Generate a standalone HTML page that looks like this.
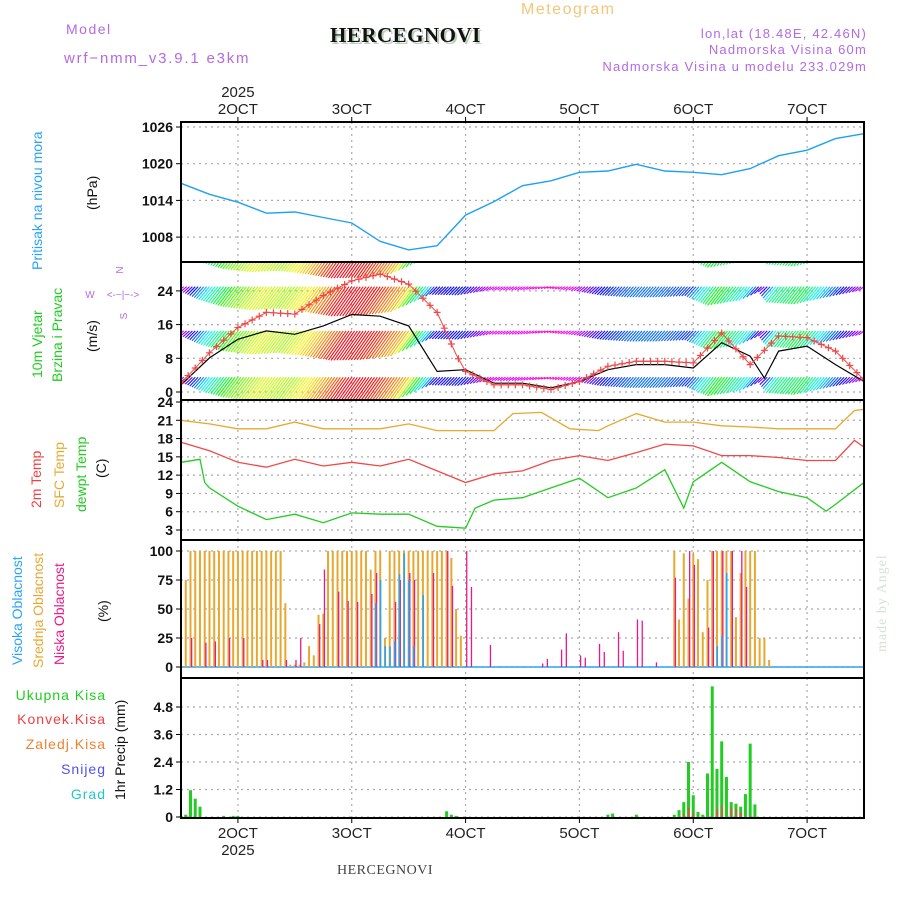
<!DOCTYPE html>
<html><head><meta charset="utf-8"><title>Meteogram HERCEGNOVI</title>
<style>
html,body{margin:0;padding:0;background:#fff;}
svg{display:block;font-family:"Liberation Sans",sans-serif;}
</style></head>
<body>
<svg id="chart" width="900" height="900" viewBox="0 0 900 900" xmlns="http://www.w3.org/2000/svg">
<defs>
<clipPath id="clipW"><rect x="181" y="263" width="683" height="136"/></clipPath>
</defs>
<rect x="0" y="0" width="900" height="900" fill="#fff"/>
<text x="66" y="34" font-size="14" fill="#b36ae2" letter-spacing="1.5">Model</text>
<text x="64" y="63" font-size="15" fill="#b36ae2" letter-spacing="1.8">wrf−nmm_v3.9.1 e3km</text>
<text x="521" y="14" font-size="16" fill="#f0c77a" letter-spacing="1.5">Meteogram</text>
<text x="332" y="44" font-size="21" font-weight="bold" fill="#b9cfb9" font-family="Liberation Serif,serif" letter-spacing="0.5">HERCEGNOVI</text>
<text x="330" y="42" font-size="21" font-weight="bold" fill="#111" font-family="Liberation Serif,serif" letter-spacing="0.5">HERCEGNOVI</text>
<text x="867" y="38" font-size="13" fill="#b36ae2" text-anchor="end" letter-spacing="1.2">lon,lat (18.48E, 42.46N)</text>
<text x="867" y="54" font-size="13" fill="#b36ae2" text-anchor="end" letter-spacing="1.2">Nadmorska Visina 60m</text>
<text x="867" y="71" font-size="13" fill="#b36ae2" text-anchor="end" letter-spacing="1.2">Nadmorska Visina u modelu 233.029m</text>
<text x="385" y="874" font-size="14" fill="#444" text-anchor="middle" font-family="Liberation Serif,serif" letter-spacing="0.5">HERCEGNOVI</text>
<text transform="translate(886,652) rotate(-90)" font-size="14" fill="#d4e2d4" font-family="Liberation Serif,serif" letter-spacing="1">made by Angel</text>

<text transform="translate(42,270) rotate(-90)" font-size="14" fill="#2aa3f5">Pritisak na nivou mora</text>
<text transform="translate(97,210) rotate(-90)" font-size="14" fill="#111">(hPa)</text>
<text transform="translate(42,378) rotate(-90)" font-size="14" fill="#22cc22">10m Vjetar</text>
<text transform="translate(62,382) rotate(-90)" font-size="14" fill="#22cc22">Brzina i Pravac</text>
<text transform="translate(97,352) rotate(-90)" font-size="14" fill="#111">(m/s)</text>
<g fill="#b36ae2" font-size="10" text-anchor="middle">
<text x="123" y="270" transform="rotate(-90 123 270)">N</text>
<text x="90" y="298">W</text>
<text x="123" y="298">&lt;-−|−-&gt;</text>
<text x="123" y="320" transform="rotate(-90 123 316)">S</text>
</g>
<text transform="translate(41,508) rotate(-90)" font-size="14" fill="#f04040">2m Temp</text>
<text transform="translate(64,508) rotate(-90)" font-size="14" fill="#e8a830">SFC Temp</text>
<text transform="translate(86,512) rotate(-90)" font-size="14" fill="#22cc22">dewpt Temp</text>
<text transform="translate(106,478) rotate(-90)" font-size="14" fill="#111">(C)</text>
<text transform="translate(22,665) rotate(-90)" font-size="14" fill="#2aa3f5">Visoka Oblacnost</text>
<text transform="translate(43,668) rotate(-90)" font-size="14" fill="#e8a830">Srednja Oblacnost</text>
<text transform="translate(64,665) rotate(-90)" font-size="14" fill="#e81a8a">Niska Oblacnost</text>
<text transform="translate(108,622) rotate(-90)" font-size="14" fill="#111">(%)</text>
<g font-size="14" text-anchor="end" letter-spacing="1">
<text x="106" y="700" fill="#22cc22">Ukupna  Kisa</text>
<text x="106" y="724" fill="#f04040">Konvek.Kisa</text>
<text x="106" y="749" fill="#f08030">Zaledj.Kisa</text>
<text x="106" y="774" fill="#5050f0">Snijeg</text>
<text x="106" y="799" fill="#22c8c8">Grad</text>
</g>
<text transform="translate(125,800) rotate(-90)" font-size="14" fill="#111">1hr Precip (mm)</text>

<g id="grid"></g>
<g id="marks"></g>
<g id="frames"></g>
<g id="axes"></g>
</svg>
<script>
// ---------- data ----------
const dayLabels = ["2OCT","3OCT","4OCT","5OCT","6OCT","7OCT"];
const dayHours = [12,36,60,84,108,132];
const pressTicks = [1008,1014,1020,1026];
const windTicks = [0,8,16,24];
const tempTicks = [3,6,9,12,15,18,21,24];
const cloudTicks = [0,25,50,75,100];
const precipTicks = [0,1.2,2.4,3.6,4.8];

const pressHours = [0,6,12,18,24,30,36,42,48,54,60,66,72,78,84,90,96,102,108,114,120,126,132,138,144];
const pressValues = [1016.8,1015.0,1013.7,1011.9,1012.1,1011.2,1010.3,1007.3,1005.9,1006.6,1011.6,1013.8,1016.4,1017.2,1018.6,1018.8,1019.9,1018.8,1018.6,1018.2,1019.2,1021.3,1022.2,1024.1,1024.9];

const windHours = [0,6,12,18,24,30,36,42,48,54,60,66,72,78,84,90,96,102,108,114,120,123,126,132,138,144];
const windSpeed = [1.7,8.1,12.5,14.5,13.7,15.7,18.4,18.0,15.7,4.9,5.3,2.1,2.1,1.0,2.5,5.3,6.5,6.5,5.7,11.7,8.5,3.3,9.7,10.9,6.5,2.5];
const gustHours = [0,6,12,18,24,30,36,42,48,54,58,60,66,72,78,84,90,96,102,108,114,120,126,132,138,144];
const gustSpeed = [2.1,9.3,15.3,18.9,18.5,22.9,26.4,28.0,25.6,18.9,8.9,4.9,1.7,1.7,0.6,2.5,6.1,7.3,7.3,6.9,14.0,6.5,13.3,12.9,9.7,2.9];

const sfcHours = [0,6,12,18,24,30,36,42,48,54,60,66,70,76,82,88,90,96,102,108,114,120,126,132,138,142,144];
const sfcTemp = [21.0,20.4,19.6,19.6,20.7,19.6,19.6,19.6,20.4,19.3,19.3,19.3,22.1,22.3,19.6,19.3,20.1,22.1,20.7,20.7,20.1,19.9,19.6,19.6,19.6,22.6,22.8];
const t2Hours = [0,6,12,18,24,30,36,42,48,54,60,66,72,78,84,90,96,102,108,114,120,126,132,138,142,144];
const t2Temp = [17.4,16.0,14.1,13.3,14.6,13.5,14.1,13.5,14.6,12.7,10.8,12.2,12.7,14.4,15.2,14.4,15.7,17.1,16.8,15.2,15.2,14.9,14.4,14.4,17.7,16.6];
const dewHours = [0,4,5,6,12,18,24,30,36,42,48,54,60,62,66,72,78,84,90,96,102,106,108,114,120,126,132,136,138,144];
const dewTemp = [14.1,14.6,10.8,9.9,6.9,4.7,5.6,4.2,5.8,5.6,5.6,3.6,3.3,6.6,7.9,8.3,9.9,11.5,8.3,9.9,12.9,6.6,10.9,14.1,10.9,9.3,8.3,6.1,7.2,10.8];

const midCloudHours = [1,2,3,4,5,6,7,8,9,10,11,12,13,14,15,16,17,18,19,20,21,22,23,24,25,26,27,28,29,30,31,32,33,34,35,36,37,38,39,40,41,42,43,44,45,46,47,48,49,50,51,52,53,54,55,56,57,58,59,104,105,106,107,108,109,110,111,112,113,114,115,116,117,118,119,120,121,122,123,124];
const midCloud = [75,100,100,100,100,100,100,100,100,100,100,100,100,100,100,100,100,100,100,100,100,55,2,2,2,4,18,10,45,46,100,100,100,100,100,100,100,100,100,84,100,100,25,100,100,100,100,100,100,100,100,100,100,100,100,100,94,50,27,100,41,98,59,98,93,30,75,100,100,100,100,100,43,81,100,100,100,25,25,6];
const lowCloudHours = [2,5,7,10,13,17,18,22,24,25,29,30,33,35,37,40,41,45,46,48,49,53,56,57,60,61,65,76,77,80,81,84,85,88,89,92,93,96,97,100,104,107,108,111,112,114,116,118,119];
const lowCloud = [25,21,22,25,25,6,6,6,6,25,37,84,65,57,56,63,81,56,75,81,75,81,100,70,100,69,19,3,7,15,29,10,8,20,13,30,14,41,40,4,77,100,88,34,100,100,100,100,69];
const highCloudHours = [41,42,43,44,45,46,47,48,49,51,113,114,115];
const highCloud = [55,75,18,18,22,80,98,75,18,62,18,27,81];

const rainHours = [0,1,2,3,4,9,11,12,56,57,58,90,91,96,104,105,106,107,108,109,110,111,112,113,114,115,116,117,118,119,120,121];
const rainTotal = [0.05,0.1,1.17,0.8,0.45,0.05,0.05,0.05,0.25,0.1,0.05,0.1,0.15,0.1,0.1,0.3,0.65,2.4,0.95,0.22,0.1,1.9,5.7,2.1,3.3,1.75,0.65,0.58,0.45,1.0,3.2,0.55];
const convHours = [0,106,107,108,113,114,116,117,118,120];
const convRain = [0.05,0.15,0.4,0.15,0.35,0.5,0.4,0.35,0.2,0.05];

// ---------- axis functions ----------
const L=181, R=864;
const X = t => L + t*(R-L)/144;
const yP = p => 127 + (1026-p)*36.7/6;
const yW = w => 392 - w*33.7/8;
const yT = c => 402 + (24-c)*128/21;
const yC = c => 667 - c*1.16;
const yR = r => 817 - r*110/4.8;

const NS="http://www.w3.org/2000/svg";
function mk(tag, attrs, parent){const e=document.createElementNS(NS,tag);for(const k in attrs)e.setAttribute(k,attrs[k]);parent.appendChild(e);return e;}
const grid=document.getElementById('grid'), marks=document.getElementById('marks'), frames=document.getElementById('frames'), axes=document.getElementById('axes');

const panels=[
 {name:'pressure',top:122,bot:262,ticks:pressTicks,fy:yP},
 {name:'wind',top:262,bot:400,ticks:windTicks,fy:yW},
 {name:'temperature',top:400,bot:540,ticks:tempTicks,fy:yT},
 {name:'cloud',top:540,bot:678,ticks:cloudTicks,fy:yC},
 {name:'precip',top:678,bot:818,ticks:precipTicks,fy:yR}
];
panels.forEach(p=>{
  dayHours.forEach(h=>{
    const g=mk('line',{x1:X(h),x2:X(h),y1:p.top,y2:p.bot,stroke:'#aaa','stroke-dasharray':'2,4','stroke-width':1.2},grid);
    
    
  });
  p.ticks.forEach(v=>{
    const y=p.fy(v);
    const g=mk('line',{x1:L,x2:R,y1:y,y2:y,stroke:'#aaa','stroke-dasharray':'2,4','stroke-width':1.2},grid);
    
    
    mk('line',{x1:L-5,x2:L,y1:y,y2:y,stroke:'#000'},axes);
    const t=mk('text',{x:L-8,y:y+5,'font-size':14,'text-anchor':'end',fill:'#111','font-weight':'bold'},axes);
    t.textContent=v;
    
    
  });
  const f=mk('rect',{x:L,y:p.top,width:R-L,height:p.bot-p.top,fill:'none',stroke:'#000','stroke-width':2},frames);
  
  
});
dayHours.forEach((h,i)=>{
  const a=mk('text',{x:X(h),y:114,'font-size':15,'text-anchor':'middle',fill:'#222'},axes);
  a.textContent=dayLabels[i];
  
  
  const b=mk('text',{x:X(h),y:838,'font-size':15,'text-anchor':'middle',fill:'#222'},axes);
  b.textContent=dayLabels[i];
  
  
  mk('line',{x1:X(h),x2:X(h),y1:117,y2:122,stroke:'#000'},axes);
  mk('line',{x1:X(h),x2:X(h),y1:818,y2:823,stroke:'#000'},axes);
});
const y1=mk('text',{x:X(12),y:97,'font-size':15,'text-anchor':'middle',fill:'#222'},axes);y1.textContent='2025';


const y2=mk('text',{x:X(12),y:855,'font-size':15,'text-anchor':'middle',fill:'#222'},axes);y2.textContent='2025';



function poly(hours, vals, fy, color, name, w, parent){
  const pts=hours.map((h,i)=>X(h).toFixed(1)+','+fy(vals[i]).toFixed(1)).join(' ');
  const e=mk('polyline',{points:pts,fill:'none',stroke:color,'stroke-width':w||1.3},parent||marks);
  
  
  return e;
}
function lerp(hours, vals, t){
  if(t<=hours[0])return vals[0];
  for(let i=1;i<hours.length;i++){ if(t<=hours[i]){const f=(t-hours[i-1])/(hours[i]-hours[i-1]);return vals[i-1]+f*(vals[i]-vals[i-1]);} }
  return vals[vals.length-1];
}
poly(pressHours,pressValues,yP,'#1fa0f5','pressure-line',1.4);

// wind barbs
const windG=mk('g',{'clip-path':'url(#clipW)'},marks);


const rowBases=[34,25,14.5,3.5];
function speedColor(s){const h=((335-s*18.5)%360+360)%360;return 'hsl('+h+',95%,50%)';}
rowBases.forEach(base=>{
  for(let t=0;t<=144;t+=0.6){
    const s=lerp(windHours,windSpeed,t);
    const len=0.38*s;
    const x0=X(t), yb=yW(base), ye=yW(base-len);
    const b=mk('line',{x1:x0,y1:yb,x2:x0-(ye-yb)*0.6-3,y2:ye,stroke:speedColor(s),'stroke-width':1.1},windG);
    
    
  }
});
poly(windHours,windSpeed,yW,'#000','wind-speed-line',1.2,windG);
poly(gustHours,gustSpeed,yW,'#f04848','wind-gust-line',1,windG);
for(let t=0;t<=144;t+=1.5){
  const v=lerp(gustHours,gustSpeed,t);const x=X(t),y=yW(v);
  const c=mk('path',{d:`M${x-3.5} ${y}H${x+3.5}M${x} ${y-3.5}V${y+3.5}`,stroke:'#f04848','stroke-width':1.2,fill:'none'},windG);
  
  
}
poly(sfcHours,sfcTemp,yT,'#e8a830','sfc-temp-line');
poly(t2Hours,t2Temp,yT,'#f04848','temp-2m-line');
poly(dewHours,dewTemp,yT,'#22cc22','dewpoint-line');

const base0=yC(0);
mk('line',{x1:L,x2:R,y1:base0,y2:base0,stroke:'#2aa3f5','stroke-width':1.5},marks);
function bars(hours, vals, fy, color, dx, w, name){
  hours.forEach((h,i)=>{
    const y=fy(vals[i]);const b0=fy(0);
    const r=mk('rect',{x:X(h)+dx,y:y,width:w,height:Math.max(0,b0-y),fill:color},marks);
    
    
  });
}
bars(midCloudHours,midCloud,yC,'#e8a830',-1,2,'mid-cloud-bar');
bars(lowCloudHours,lowCloud,yC,'#e81a8a',0.5,1.3,'low-cloud-bar');
bars(highCloudHours,highCloud,yC,'#2aa3f5',-0.5,1.6,'high-cloud-bar');
bars(rainHours,rainTotal,yR,'#22cc22',-1.5,3,'total-rain-bar');
bars(convHours,convRain,yR,'#f04848',-0.5,1.5,'convective-rain-bar');
</script>
</body></html>
